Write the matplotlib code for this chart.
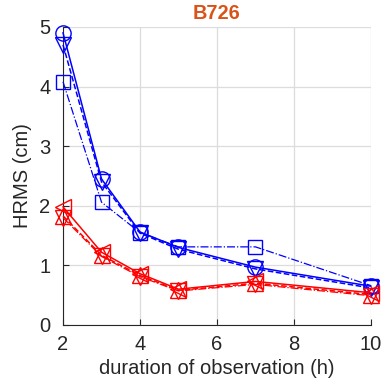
import matplotlib
matplotlib.use("Agg")
import matplotlib.pyplot as plt

plt.rcParams['font.family'] = ['Liberation Sans', 'DejaVu Sans']

hours = [2, 3, 4, 5, 7, 10]

# blue series
blue_circle = [4.90, 2.45, 1.56, 1.30, 0.97, 0.65]
blue_tri_down = [4.70, 2.40, 1.54, 1.27, 0.94, 0.62]
blue_square = [4.08, 2.06, 1.55, 1.31, 1.31, 0.66]

# red series
red_tri_left = [1.98, 1.22, 0.86, 0.60, 0.73, 0.54]
red_tri_up = [1.83, 1.17, 0.83, 0.58, 0.70, 0.51]
red_tri_down = [1.80, 1.15, 0.81, 0.57, 0.68, 0.49]

fig = plt.figure(figsize=(3.82, 3.85), dpi=100)
ax = fig.add_axes([0.165, 0.156, 0.806, 0.774])

blue = "#0000FF"
red = "#FF0000"
ms = 11
kw = dict(mfc="none", clip_on=False, zorder=3)
ax.plot(hours, blue_circle, "-", color=blue, marker="o", ms=ms, lw=1.1, **kw)
ax.plot(hours, blue_tri_down, "--", color=blue, marker="v", ms=ms, lw=1.1, **kw)
ax.plot(hours, blue_square, "-.", color=blue, marker="s", ms=10, lw=0.9, **kw)
ax.plot(hours, red_tri_left, "-", color=red, marker="<", ms=ms, lw=1.1, **kw)
ax.plot(hours, red_tri_up, "--", color=red, marker="^", ms=ms, lw=1.1, **kw)
ax.plot(hours, red_tri_down, "-.", color=red, marker="v", ms=ms, lw=0.9, **kw)

ax.set_xlim(2, 10)
ax.set_ylim(0, 5)
ax.set_xticks([2, 4, 6, 8, 10])
ax.set_yticks([0, 1, 2, 3, 4, 5])
ax.grid(True, color="#dcdcdc", lw=0.9)
ax.set_axisbelow(True)
for s in ["top", "right"]:
    ax.spines[s].set_visible(False)
for s in ["left", "bottom"]:
    ax.spines[s].set_color("#262626")
ax.tick_params(direction="in", labelsize=14.5, colors="#262626", length=4)
ax.tick_params(axis="y", pad=9)
ax.tick_params(axis="x", pad=7)

ax.set_xlabel("duration of observation (h)", fontsize=14.5, color="#262626", labelpad=4)
ax.set_ylabel("HRMS (cm)", fontsize=14.5, color="#262626", labelpad=5)
ax.set_title("B726", fontsize=14.3, fontweight="bold", color="#D95319", pad=6)

fig.savefig("out.png", dpi=100)
